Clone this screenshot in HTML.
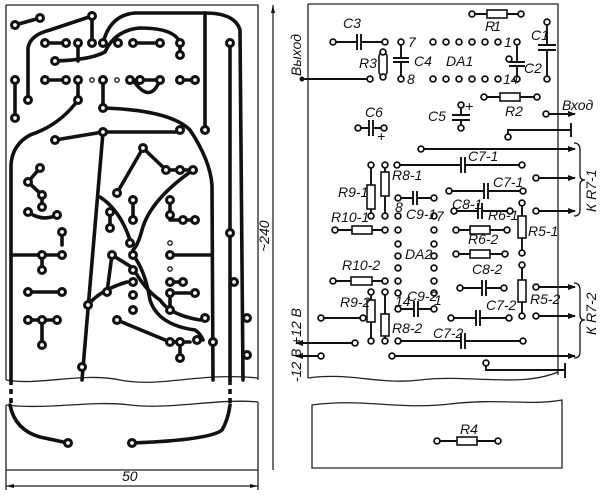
<!DOCTYPE html>
<html><head><meta charset="utf-8"><style>
html,body{margin:0;padding:0;background:#fff}
svg{display:block}
text{font-family:"Liberation Sans",sans-serif;font-style:italic;font-size:14px;fill:#111}
.c{transform-box:fill-box}
</style></head><body>
<svg width="600" height="498" viewBox="0 0 600 498" xmlns="http://www.w3.org/2000/svg">
<defs>
<g id="p"><circle r="5" fill="#111"/><circle r="1.9" fill="#fff"/></g>
<g id="s"><circle r="2.2" fill="none" stroke="#111" stroke-width="1.3"/></g>
<g id="q"><circle r="2.9" fill="#fff" stroke="#111" stroke-width="1.8"/></g>
<marker id="ar" markerWidth="8" markerHeight="6" refX="7" refY="3" orient="auto" markerUnits="userSpaceOnUse"><path d="M0,0 L8,3 L0,6z" fill="#111"/></marker>
</defs>

<!-- LEFT BOARD -->
<g fill="none" stroke="#222" stroke-width="1.3">
<path d="M6,5 H258 V380"/>
<path d="M6,5 V380"/>
<path d="M6,380 C40,386 80,372 120,380 C160,388 200,372 258,378"/>
<path d="M6,405 C50,410 90,400 130,405 C170,410 220,398 258,402"/>
<path d="M6,405 V470 H258 V402"/>
<path d="M273,5 V470"/>
<path d="M6,486 H258"/>
<path d="M6,470 V490 M258,470 V490"/>
</g>
<path d="M273,5 l-2,8 h4z" fill="#111"/>
<path d="M6,486 l8,-2 v4z M258,486 l-8,-2 v4z" fill="#111"/>
<text x="122" y="481" font-size="16">50</text>
<text transform="translate(269,252) rotate(-90)" font-size="16">~240</text>

<g fill="none" stroke="#111" stroke-width="3.6" stroke-linecap="round">
<path d="M15,25 L40,18"/>
<path d="M28,100 V48 Q30,35 50,30 L92,16 V43"/>
<path d="M45,43 H66 M133,43 H160"/>
<path d="M78,43 V61 M55,61 Q90,60 105,52 Q115,30 140,28 Q175,28 180,43 V55"/>
<path d="M103,43 Q110,15 135,13 H205 Q235,13 240,30 L243,380"/>
<path d="M205,13 V130"/>
<path d="M230,43 V380"/>
<path d="M45,80 H66 M78,80 V100 M103,80 V108 M130,80 H160 M180,80 H195"/>
<path d="M133,80 Q150,105 160,80"/>
<path d="M15,80 V118"/>
<path d="M78,100 Q60,125 30,135 Q12,145 11,165 L11,380"/>
<path d="M103,108 Q170,110 190,130 Q210,160 212,185 L213,380"/>
<path d="M55,140 L103,132 H180"/>
<path d="M103,132 L82,380"/>
<path d="M143,148 L117,193 M143,148 L166,170 H193"/>
<path d="M193,170 Q150,200 142,230 Q138,245 133,250"/>
<path d="M40,168 L28,182 L42,195 V207 M28,212 Q42,222 57,215"/>
<path d="M62,232 V245"/>
<path d="M11,255 H62 M42,255 V270"/>
<path d="M28,292 H62 M28,320 H57 M42,320 V345"/>
<path d="M100,197 Q120,210 130,240"/>
<path d="M110,212 V228 M133,200 V220"/>
<path d="M170,200 V215 M170,220 H195"/>
<path d="M112,255 L107,292 M112,255 L133,268"/>
<path d="M133,255 Q145,270 150,300 Q158,325 195,330 Q200,333 203,340"/>
<path d="M133,268 Q145,290 160,300 Q170,315 200,320 L205,318"/>
<path d="M117,320 L170,342 H190 M180,342 V358"/>
<path d="M170,255 H212"/>
<path d="M170,282 H183 M170,293 H195 M170,293 V310"/>
<path d="M88,305 Q100,290 127,282"/>
<path d="M10,405 Q15,430 40,437 L68,443"/>
<path d="M132,443 Q210,440 222,430 Q228,420 230,405"/>
</g>
<g stroke="#111" stroke-width="3.6" stroke-dasharray="5,4" fill="none">
<path d="M11,380 V405 M230,380 V405"/>
</g>
<g>
<use href="#p" x="15" y="25"/><use href="#p" x="40" y="18"/><use href="#p" x="92" y="16"/>
<use href="#p" x="45" y="43"/><use href="#p" x="66" y="43"/><use href="#p" x="78" y="43"/><use href="#p" x="92" y="43"/><use href="#p" x="103" y="43"/><use href="#p" x="118" y="43"/><use href="#p" x="133" y="43"/><use href="#p" x="160" y="43"/><use href="#p" x="180" y="43"/><use href="#p" x="180" y="55"/>
<use href="#p" x="55" y="61"/><use href="#p" x="230" y="43"/>
<use href="#p" x="45" y="80"/><use href="#p" x="66" y="80"/><use href="#p" x="78" y="80"/><use href="#s" x="92" y="80"/><use href="#p" x="103" y="80"/><use href="#s" x="117" y="80"/><use href="#p" x="130" y="80"/><use href="#p" x="140" y="80"/><use href="#p" x="160" y="80"/><use href="#p" x="180" y="80"/><use href="#p" x="195" y="80"/>
<use href="#p" x="15" y="80"/><use href="#p" x="15" y="118"/><use href="#p" x="28" y="100"/><use href="#p" x="78" y="100"/><use href="#p" x="103" y="108"/>
<use href="#p" x="55" y="140"/><use href="#p" x="103" y="132"/><use href="#p" x="180" y="130"/><use href="#p" x="205" y="130"/>
<use href="#p" x="143" y="148"/><use href="#p" x="117" y="193"/><use href="#p" x="166" y="170"/><use href="#p" x="180" y="170"/><use href="#p" x="193" y="170"/>
<use href="#p" x="40" y="168"/><use href="#p" x="28" y="182"/><use href="#p" x="42" y="195"/><use href="#p" x="42" y="207"/><use href="#p" x="28" y="212"/><use href="#p" x="57" y="215"/>
<use href="#p" x="62" y="232"/><use href="#p" x="42" y="255"/><use href="#p" x="62" y="255"/><use href="#p" x="42" y="270"/>
<use href="#p" x="28" y="292"/><use href="#p" x="62" y="292"/><use href="#p" x="28" y="320"/><use href="#p" x="42" y="320"/><use href="#p" x="57" y="320"/><use href="#p" x="42" y="345"/>
<use href="#p" x="133" y="200"/><use href="#p" x="133" y="220"/><use href="#p" x="110" y="212"/><use href="#p" x="110" y="228"/><use href="#p" x="130" y="243"/>
<use href="#p" x="170" y="200"/><use href="#p" x="170" y="215"/><use href="#p" x="183" y="220"/><use href="#p" x="195" y="220"/><use href="#s" x="170" y="243"/>
<use href="#p" x="230" y="233"/><use href="#p" x="112" y="255"/><use href="#p" x="133" y="255"/><use href="#p" x="170" y="255"/><use href="#s" x="170" y="269"/>
<use href="#p" x="133" y="270"/><use href="#p" x="107" y="292"/><use href="#p" x="133" y="282"/><use href="#p" x="133" y="295"/><use href="#p" x="133" y="310"/>
<use href="#p" x="170" y="282"/><use href="#p" x="183" y="282"/><use href="#p" x="170" y="293"/><use href="#p" x="195" y="293"/><use href="#p" x="170" y="310"/>
<use href="#p" x="205" y="318"/><use href="#p" x="197" y="340"/><use href="#p" x="117" y="320"/><use href="#p" x="170" y="342"/><use href="#p" x="180" y="342"/><use href="#p" x="180" y="358"/>
<use href="#p" x="234" y="282"/><use href="#p" x="247" y="318"/><use href="#p" x="247" y="355"/><use href="#p" x="213" y="342"/><use href="#p" x="82" y="367"/><use href="#p" x="88" y="305"/>
<use href="#p" x="68" y="443"/><use href="#p" x="132" y="443"/>
</g>

<!-- RIGHT BOARD -->
<g fill="none" stroke="#222" stroke-width="1.3">
<path d="M308,4 H558 V375"/>
<path d="M308,4 V378"/>
<path d="M308,378 C350,372 380,385 420,380 C470,374 520,388 558,372"/>
<path d="M312,405 C360,398 400,410 450,404 C500,398 530,406 562,400 V468 H312 Z"/>
</g>
<g fill="none" stroke="#111" stroke-width="1.9">
<path d="M472,14 H521"/>
<path d="M333,42 H357 M361,42 H385 M357,34 V50 M361,34 V50"/>
<path d="M401,42 V58 M401,62 V79 M393,58 H409 M393,62 H409"/>
<path d="M517,42 V62 M517,66 V79 M509,62 H525 M509,66 H525"/>
<path d="M547,22 V45 M547,50 V79 M538,45 H556 M538,50 H556"/>
<path d="M302,79 H370"/>
<path d="M484,97 H537"/>
<path d="M546,114 H575" marker-end="url(#ar)"/>
<path d="M461,105 V115 M461,120 V128 M452,115 H470 M452,120 H470"/>
<path d="M358,128 H369 M373,128 H384 M369,120 V136 M373,120 V136"/>
<path d="M508,137 V130 H571 M571,123 V137"/>
<path d="M421,149 H575" marker-end="url(#ar)"/>
<path d="M397,165 H461 M465,165 H522 M461,157 V173 M465,157 V173"/>
<path d="M371,165 V216 M385,165 V216"/>
<path d="M398,198 H413 M417,198 H434 M413,191 V205 M417,191 V205"/>
<path d="M449,191 H484 M488,191 H523 M484,183 V199 M488,183 V199"/>
<path d="M454,211 H478 M482,211 H510 M478,203 V219 M482,203 V219"/>
<path d="M456,230 H507 M456,254 H505"/>
<path d="M522,203 V253 M522,265 V316"/>
<path d="M536,178 H575" marker-end="url(#ar)"/>
<path d="M536,211 H575" marker-end="url(#ar)"/>
<path d="M335,230 H385 M333,281 H385"/>
<path d="M460,288 H482 M486,288 H504 M482,280 V296 M486,280 V296"/>
<path d="M536,287 H575" marker-end="url(#ar)"/>
<path d="M536,316 H575" marker-end="url(#ar)"/>
<path d="M371,292 V341 M385,292 V341"/>
<path d="M398,309 H414 M418,309 H434 M414,301 V317 M418,301 V317"/>
<path d="M451,318 H476 M480,318 H509 M476,310 V326 M480,310 V326"/>
<path d="M321,318 H363"/>
<path d="M398,341 H461 M465,341 H523 M461,333 V349 M465,333 V349"/>
<path d="M355,343 H296" marker-end="url(#ar)"/>
<path d="M321,356 H296" marker-end="url(#ar)"/>
<path d="M392,356 H575" marker-end="url(#ar)"/>
<path d="M486,363 V370 H565 M565,363 V378"/>
<path d="M437,441 H498"/>
</g>
<g fill="none" stroke="#111" stroke-width="1.3">
<path d="M574,143 Q580,143 580,150 V175 Q580,180 585,180 Q580,180 580,185 V210 Q580,216 574,216"/>
<path d="M574,283 Q580,283 580,290 V315 Q580,320 585,320 Q580,320 580,325 V352 Q580,358 574,358"/>
</g>
<g fill="#fff" stroke="#111" stroke-width="1.6">
<rect x="487" y="10" width="20" height="8"/>
<rect x="379" y="53" width="8" height="22" rx="3"/>
<rect x="500" y="93" width="20" height="8"/>
<rect x="367" y="185" width="8" height="24"/>
<rect x="381" y="172" width="8" height="24"/>
<rect x="470" y="226" width="20" height="8"/>
<rect x="470" y="250" width="20" height="8"/>
<rect x="518" y="216" width="8" height="22"/>
<rect x="352" y="226" width="20" height="8"/>
<rect x="351" y="277" width="21" height="8"/>
<rect x="518" y="280" width="8" height="22"/>
<rect x="367" y="300" width="8" height="22"/>
<rect x="381" y="314" width="8" height="22"/>
<rect x="457" y="437" width="20" height="8"/>
</g>
<g>
<use href="#q" x="472" y="14"/><use href="#q" x="521" y="14"/><use href="#q" x="333" y="42"/><use href="#q" x="385" y="42"/>
<use href="#q" x="401" y="42"/><use href="#q" x="401" y="79"/>
<use href="#q" x="433" y="42"/><use href="#q" x="446" y="42"/><use href="#q" x="459" y="42"/><use href="#q" x="472" y="42"/><use href="#q" x="485" y="42"/><use href="#q" x="498" y="42"/><use href="#q" x="517" y="42"/>
<use href="#q" x="433" y="79"/><use href="#q" x="446" y="79"/><use href="#q" x="459" y="79"/><use href="#q" x="472" y="79"/><use href="#q" x="485" y="79"/><use href="#q" x="498" y="79"/><use href="#q" x="517" y="79"/><use href="#q" x="509" y="59"/>
<use href="#q" x="547" y="22"/><use href="#q" x="547" y="79"/><use href="#q" x="370" y="79"/><use href="#q" x="383" y="52"/><use href="#q" x="383" y="77"/>
<circle cx="302" cy="79" r="2.5" fill="#111"/>
<use href="#q" x="484" y="97"/><use href="#q" x="537" y="97"/><use href="#q" x="546" y="114"/><use href="#q" x="461" y="105"/><use href="#q" x="461" y="128"/>
<use href="#q" x="358" y="128"/><use href="#q" x="384" y="128"/><use href="#q" x="508" y="137"/><use href="#q" x="421" y="149"/>
<use href="#q" x="397" y="165"/><use href="#q" x="522" y="165"/><use href="#q" x="371" y="165"/><use href="#q" x="385" y="165"/><use href="#q" x="371" y="216"/><use href="#q" x="385" y="216"/>
<use href="#q" x="398" y="198"/><use href="#q" x="434" y="198"/><use href="#q" x="449" y="191"/><use href="#q" x="523" y="191"/><use href="#q" x="454" y="211"/><use href="#q" x="510" y="211"/>
<use href="#q" x="456" y="230"/><use href="#q" x="507" y="230"/><use href="#q" x="456" y="254"/><use href="#q" x="505" y="254"/>
<use href="#q" x="522" y="203"/><use href="#q" x="522" y="253"/><use href="#q" x="536" y="178"/><use href="#q" x="536" y="211"/>
<use href="#q" x="335" y="230"/><use href="#q" x="385" y="230"/><use href="#q" x="333" y="281"/><use href="#q" x="385" y="281"/>
<use href="#q" x="398" y="216"/><use href="#q" x="434" y="216"/>
<use href="#q" x="398" y="230"/><use href="#q" x="398" y="244"/><use href="#q" x="398" y="256"/><use href="#q" x="398" y="268"/><use href="#q" x="398" y="281"/><use href="#q" x="398" y="293"/>
<use href="#q" x="434" y="230"/><use href="#q" x="434" y="244"/><use href="#q" x="434" y="256"/><use href="#q" x="434" y="268"/><use href="#q" x="434" y="281"/><use href="#q" x="434" y="293"/>
<use href="#q" x="460" y="288"/><use href="#q" x="504" y="288"/><use href="#q" x="522" y="265"/><use href="#q" x="522" y="316"/><use href="#q" x="536" y="287"/><use href="#q" x="536" y="316"/>
<use href="#q" x="371" y="292"/><use href="#q" x="385" y="292"/><use href="#q" x="371" y="341"/><use href="#q" x="385" y="341"/>
<use href="#q" x="398" y="309"/><use href="#q" x="434" y="309"/><use href="#q" x="451" y="318"/><use href="#q" x="509" y="318"/>
<use href="#q" x="321" y="318"/><use href="#q" x="363" y="318"/><use href="#q" x="398" y="341"/><use href="#q" x="523" y="341"/>
<use href="#q" x="355" y="343"/><use href="#q" x="321" y="356"/><use href="#q" x="392" y="356"/><use href="#q" x="486" y="363"/>
<use href="#q" x="437" y="441"/><use href="#q" x="498" y="441"/>
</g>
<g>
<text x="485" y="31" textLength="16">R1</text><text x="343" y="28">C3</text><text x="531" y="40">C1</text><text x="524" y="73">C2</text>
<text x="408" y="47" font-size="13">7</text><text x="504" y="47" font-size="13">1</text>
<text x="407" y="84" font-size="13">8</text><text x="503" y="84" font-size="12">14</text>
<text x="414" y="66">C4</text><text x="359" y="68">R3</text><text x="446" y="66">DA1</text>
<text x="505" y="116">R2</text><text x="562" y="110">Вход</text>
<text x="428" y="121">C5</text><text x="465" y="111">+</text>
<text x="365" y="117">C6</text><text x="377" y="141" font-size="12">+</text>
<text x="468" y="161">C7-1</text><text x="493" y="187">C7-1</text>
<text x="338" y="197">R9-1</text><text x="392" y="180">R8-1</text>
<text x="395" y="212" font-size="12">8</text><text x="406" y="219">C9-1</text><text x="436" y="221" font-size="12">7</text>
<text x="452" y="209">C8-1</text><text x="488" y="220">R6-1</text><text x="468" y="244">R6-2</text><text x="528" y="236">R5-1</text>
<text x="331" y="222">R10-1</text><text x="405" y="259">DA2</text>
<text x="342" y="270">R10-2</text><text x="472" y="274">C8-2</text><text x="530" y="304">R5-2</text>
<text x="340" y="307">R9-2</text><text x="392" y="333">R8-2</text>
<text x="407" y="301">C9-2</text><text x="395" y="306" font-size="10">14</text><text x="434" y="305" font-size="11">1</text>
<text x="486" y="310">C7-2</text><text x="433" y="338">C7-2</text>
<text x="460" y="434">R4</text>
<text transform="translate(596,212) rotate(-90)">К R7-1</text>
<text transform="translate(596,335) rotate(-90)">К R7-2</text>
<text transform="translate(301,76) rotate(-90)" font-size="12">Выход</text>
<text transform="translate(301,345) rotate(-90)" font-size="12">+12 В</text>
<text transform="translate(301,382) rotate(-90)" font-size="12">-12 В</text>
</g>
</svg>
</body></html>
